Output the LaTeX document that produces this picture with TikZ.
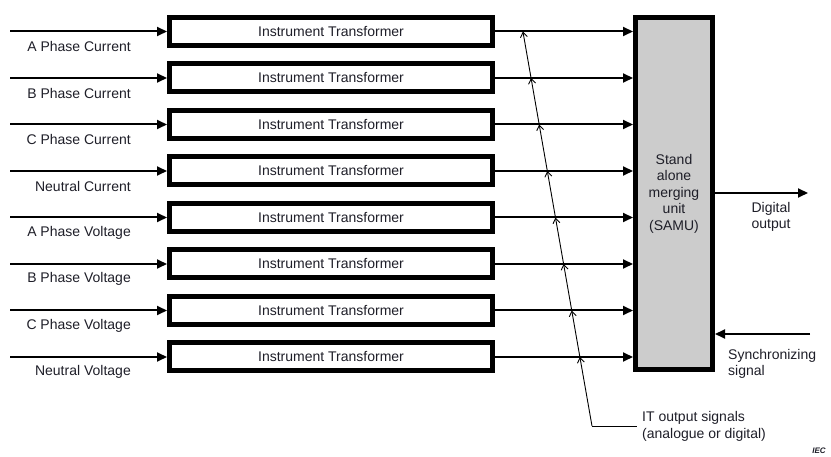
\documentclass[tikz,border=0pt]{standalone}
\usepackage{fontspec}
\setmainfont{Liberation Sans}
\usetikzlibrary{arrows.meta}
\definecolor{txt}{HTML}{1E1E28}
\begin{document}
\begin{tikzpicture}[x=1pt,y=-1pt,
  every node/.style={text=txt, font=\fontsize{14}{16.5}\selectfont},
  itbox/.style={draw, line width=5pt, minimum width=323pt, minimum height=28pt, inner sep=0pt},
  samubox/.style={draw, fill=black!20, line width=5pt, minimum width=77pt, minimum height=352pt, inner sep=0pt, align=center},
  sig/.style={line width=2pt, -{Triangle[length=10pt,width=9pt]}},
  thinarr/.style={line width=0.9pt, -{Straight Barb[length=5pt,width=7pt]}},
  lbl/.style={anchor=east, inner sep=0pt}]
\useasboundingbox (0,0) rectangle (831,457);
\node[samubox] (samu) at (674,193.5) {Stand\\alone\\merging\\unit\\(SAMU)};
\foreach \i/\lab in {1/A Phase Current,2/B Phase Current,3/C Phase Current,4/Neutral Current,5/A Phase Voltage,6/B Phase Voltage,7/C Phase Voltage,8/Neutral Voltage}{
  \pgfmathsetmacro{\yy}{31.5+46.5*(\i-1)}
  \pgfmathsetmacro{\xx}{523+0.175*(\yy-32)}
  \node[itbox] (it\i) at (331,\yy) {Instrument Transformer};
  \coordinate (in\i) at (10,\yy);
  \coordinate (c\i) at (\xx,\yy);
  \draw[sig] (in\i) -- (it\i.west);
  \node[lbl] (l\i) at (131,\yy+15) {\lab};
  \draw[sig] (it\i.east) -- (it\i.east -| samu.west);
}
\coordinate (c9) at (592,426);
\coordinate (c10) at (637,426);
\foreach \i [evaluate=\i as \j using int(\i+1)] in {1,...,8}{
  \draw[thinarr] (c\j) -- (c\i);
}
\draw[line width=0.9pt] (c9) -- (c10);
\node[anchor=west, align=left, inner sep=0pt] (itout) at (642,426.5) {IT output signals\\(analogue or digital)};
\coordinate (dout) at (808,193);
\draw[sig] (samu.east |- dout) -- (dout);
\node[align=center, inner sep=0pt] (dlbl) at (771,217) {Digital\\output};
\coordinate (sin) at (810,334);
\draw[sig] (sin) -- (sin -| samu.east);
\node[anchor=west, align=left, inner sep=0pt] (slbl) at (728,364) {Synchronizing\\signal};
\node[inner sep=0pt, font=\fontsize{8}{9}\selectfont\itshape\bfseries] (iec) at (819,451) {IEC};
\end{tikzpicture}
\end{document}
